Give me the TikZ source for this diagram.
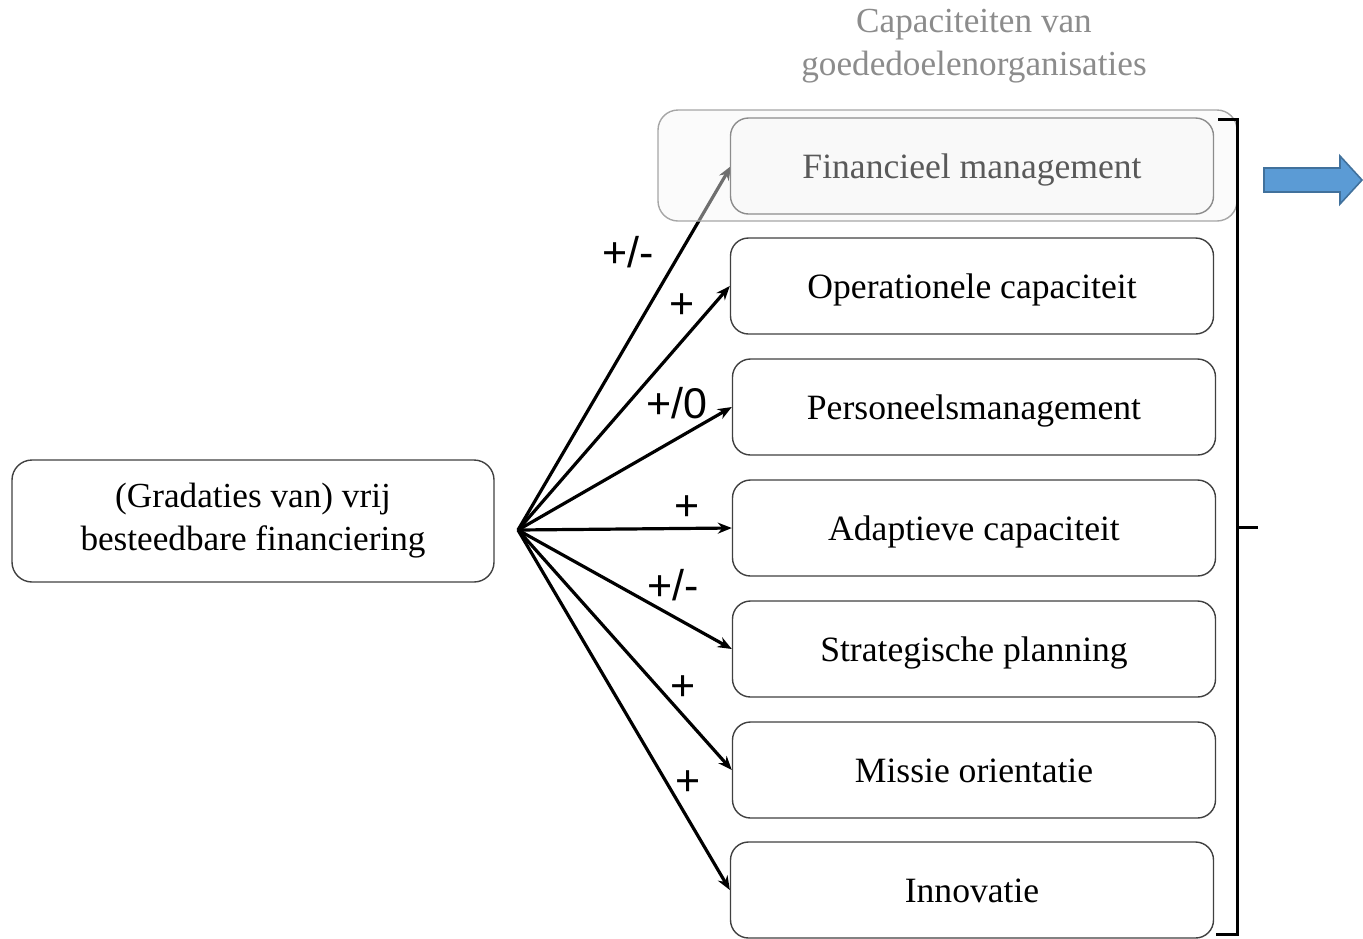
\documentclass[tikz,border=0pt]{standalone}
\usepackage{fontspec}
\setmainfont{Liberation Serif}
\newfontfamily\labfont{Liberation Sans}
\usetikzlibrary{arrows.meta}
\definecolor{txtgray}{HTML}{595959}
\definecolor{titlegray}{HTML}{8C8C8C}
\definecolor{arrblue}{HTML}{5B9BD5}
\definecolor{arrblued}{HTML}{41719C}
\begin{document}
\begin{tikzpicture}[x=0.5pt,y=-0.5pt,
  capbox/.style={draw=black!75,line width=0.7pt,rounded corners=9pt,minimum width=241.5pt,minimum height=48pt,inner sep=0pt,font=\fontsize{17.8}{20}\selectfont,fill=white,text height=14pt,text depth=1.2pt},
  srcbox/.style={draw=black!75,line width=0.7pt,rounded corners=10pt,minimum width=241pt,minimum height=61pt,inner sep=0pt,align=center,font=\fontsize{17.6}{21.5}\selectfont},
  conn/.style={line width=1.6pt,-{Stealth[length=7pt,width=5.5pt]}},
  lab/.style={font=\labfont\fontsize{21.5}{24}\selectfont,inner sep=0pt},
  brk/.style={line width=1.5pt,black}]
\useasboundingbox (0,0) rectangle (1363,938);
% title
\node[text=titlegray,align=center,font=\fontsize{17.6}{21.5}\selectfont] (title) at (974,46) {Capaciteiten van\\goededoelenorganisaties};
% source
\node[srcbox] (src) at (253,521) {(Gradaties van) vrij\\besteedbare financiering};
\coordinate (o) at (518,530);
% boxes 2-7
\node[capbox] (b2) at (972,286) {Operationele capaciteit};
\node[capbox] (b3) at (974,407) {Personeelsmanagement};
\node[capbox] (b4) at (974,528) {Adaptieve capaciteit};
\node[capbox] (b5) at (974,649) {Strategische planning};
\node[capbox] (b6) at (974,770) {Missie orientatie};
\node[capbox] (b7) at (972,890) {Innovatie};
% arrow to b1 (drawn before highlight overlay)
\coordinate (b1w) at (731,166);
\draw[conn] (o) -- (b1w);
% highlight box
\node[draw=black!35,line width=0.7pt,rounded corners=10pt,fill=black!3,fill opacity=0.45,minimum width=289.5pt,minimum height=55.5pt,inner sep=0pt] (hl) at (947.5,165.5) {};
\node[capbox,draw=black!45,fill=black!3,fill opacity=0.5,text opacity=1,text=txtgray] (b1) at (972,166) {Financieel management};
% arrows
\draw[conn] (o) -- (b2.west);
\draw[conn] (o) -- (b3.west);
\draw[conn] (o) -- (b4.west);
\draw[conn] (o) -- (b5.west);
\draw[conn] (o) -- (b6.west);
\draw[conn] (o) -- (b7.west);
% labels
\node[lab] (l1) at (628,252) {+/-};
\node[lab] (l2) at (682,306) {+};
\node[lab] (l3) at (677,403) {+/0};
\node[lab] (l4) at (687,508) {+};
\node[lab] (l5) at (673,585) {+/-};
\node[lab] (l6) at (683,688) {+};
\node[lab] (l7) at (688,783) {+};
% bracket
\coordinate (bt) at (1237,119);
\coordinate (bb) at (1237,934);
\coordinate (bm) at (1237,527);
\draw[brk] (1218,119) -- (bt) -- (bb) -- (1216,934);
\draw[brk] (bm) -- (1258,527);
% blue arrow
\draw[draw=arrblued,fill=arrblue,line width=0.8pt,line join=miter]
  (1264,168) -- (1340,168) -- (1340,156) -- (1362,180) -- (1340,204) -- (1340,192) -- (1264,192) -- cycle;
\end{tikzpicture}
\end{document}
